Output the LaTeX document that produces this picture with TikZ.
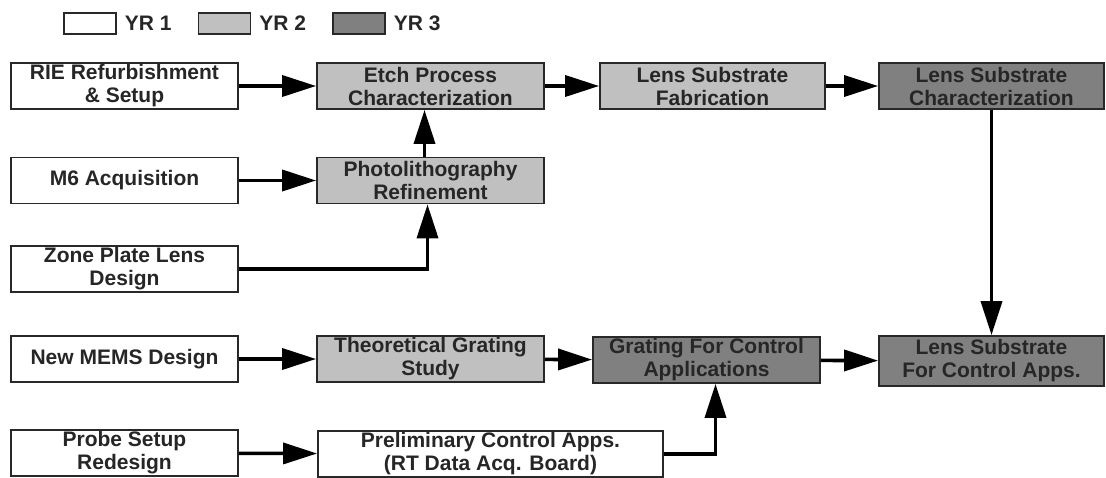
\documentclass[tikz,border=0pt]{standalone}
\usepackage{fontspec}
\setmainfont{Liberation Sans}
\usetikzlibrary{arrows.meta,positioning}
\definecolor{yrtwo}{RGB}{192,192,192}
\definecolor{yrthree}{RGB}{128,128,128}
\definecolor{boxline}{RGB}{40,40,40}
\colorlet{inktext}{black!85}
\tikzset{
  task/.style={draw=boxline, line width=1.8pt, minimum width=227pt, minimum height=46pt,
    inner sep=0pt, align=center, text=inktext, font=\fontsize{21}{23}\selectfont\bfseries},
  yrone/.style={task, fill=white},
  yrtwo/.style={task, fill=yrtwo},
  yrthree/.style={task, fill=yrthree},
  flow/.style={line width=3.6pt, -{Triangle[length=34pt,width=21pt]}},
  key/.style={draw=boxline, line width=1.5pt, minimum width=52pt, minimum height=21pt, inner sep=0pt},
  keytext/.style={font=\fontsize{21}{21}\selectfont\bfseries, text=inktext, inner sep=0pt}
}

\begin{document}
\begin{tikzpicture}[x=1pt, y=-1pt]
  \useasboundingbox (0,0) rectangle (1106,477);
  % legend
  \foreach \fillc/\x/\yr in {white/90/1, yrtwo/224.5/2, yrthree/359/3} {
    \node[key, fill=\fillc] (key\yr) at (\x,23.5) {};
    \node[keytext, right=8pt of key\yr] (label\yr) {YR \yr};
  }
  % tasks
  \node[yrone] (rie) at (124.5,86) {RIE Refurbishment\\\& Setup};
  \node[yrtwo] (etch) at (430.5,86) {Etch Process\\Characterization};
  \node[yrtwo, minimum width=225pt] (fab) at (712.5,86) {Lens Substrate\\Fabrication};
  \node[yrthree, minimum width=225pt] (char) at (991.5,86) {Lens Substrate\\Characterization};
  \node[yrone] (msix) at (124.5,180.5) {M6 Acquisition};
  \node[yrtwo] (photo) at (430.5,180.5) {Photolithography\\Refinement};
  \node[yrone] (zone) at (124.5,269) {Zone Plate Lens\\Design};
  \node[yrone] (mems) at (124.5,359) {New MEMS Design};
  \node[yrtwo] (theory) at (430.5,359) {Theoretical Grating\\Study};
  \node[yrthree] (grating) at (706.5,360) {Grating For Control\\Applications};
  \node[yrthree, minimum width=225pt, minimum height=50pt] (lenscon) at (991.5,361) {Lens Substrate\\For Control Apps.};
  \node[yrone] (probe) at (124.5,453) {Probe Setup\\Redesign};
  \node[yrone, minimum width=345pt] (prelim) at (490.5,454) {Preliminary Control Apps.\\(RT Data Acq. Board)};
  % flow
  \draw[flow] (rie) -- (etch);
  \draw[flow] (etch) -- (fab);
  \draw[flow] (fab) -- (char);
  \draw[flow] (msix) -- (photo);
  \draw[flow] ([xshift=-6pt]photo.north) -- ([xshift=-6pt]etch.south);
  \draw[flow] (zone.east) -| ([xshift=-3pt]photo.south);
  \draw[flow] (mems) -- (theory);
  \draw[flow] (theory) -- (grating);
  \draw[flow] (grating) -- (lenscon);
  \draw[flow] (char) -- (lenscon);
  \draw[flow] (probe) -- (prelim);
  \draw[flow] (prelim.east) -| ([xshift=9pt]grating.south);
\end{tikzpicture}
\end{document}
